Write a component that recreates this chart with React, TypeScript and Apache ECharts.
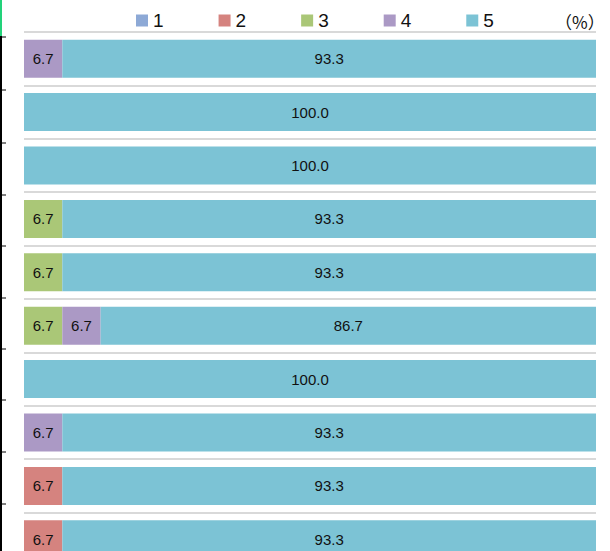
import React, { useEffect, useRef } from "react";
import * as echarts from "echarts";

const categories = ["1", "2", "3", "4", "5", "6", "7", "8", "9", "10"];
const seriesNames = ["1", "2", "3", "4", "5"];
const s1 = [0, 0, 0, 0, 0, 0, 0, 0, 0, 0];
const s2 = [0, 0, 0, 0, 0, 0, 0, 0, 6.7, 6.7];
const s3 = [0, 0, 0, 6.7, 6.7, 6.7, 0, 0, 0, 0];
const s4 = [6.7, 0, 0, 0, 0, 6.7, 0, 6.7, 0, 0];
const s5 = [93.3, 100, 100, 93.3, 93.3, 86.7, 100, 93.3, 93.3, 93.3];
const colors = ["#8DA9D6", "#D5837F", "#AAC777", "#AB99C5", "#7CC3D5"];
const leftTicks = [37, 90, 143, 195, 246, 298, 349, 400, 452, 504];

export default function App() {
  const ref = useRef<HTMLDivElement>(null);
  useEffect(() => {
    if (!ref.current) return;
    const chart = echarts.init(ref.current, null, { renderer: "svg" });
    const all = [s1, s2, s3, s4, s5];
    const series = all.map((d, i) => ({
      name: seriesNames[i],
      type: "bar",
      stack: "total",
      barWidth: 38,
      data: d.map((v) => (v === 0 ? null : v)),
      itemStyle: { color: colors[i] },
      label: {
        show: true,
        position: "inside",
        color: "#111",
        fontSize: 15,
        fontFamily: "Liberation Sans",
        formatter: (p: any) => (p.value == null ? "" : Number(p.value).toFixed(1)),
      },
    }));
    const graphics: any[] = [
      { type: "line", shape: { x1: 1, y1: 0, x2: 1, y2: 36 }, style: { stroke: "#22d27a", lineWidth: 2 } },
      { type: "line", shape: { x1: 1, y1: 36, x2: 1, y2: 580 }, style: { stroke: "#000", lineWidth: 2 } },
      ...leftTicks.map((y) => ({
        type: "line",
        shape: { x1: 0, y1: y, x2: 6, y2: y },
        style: { stroke: "#000", lineWidth: 1 },
      })),
      {
        type: "text",
        left: 555,
        top: 13,
        style: { text: "（%）", fontSize: 17, fontFamily: "Noto Sans CJK JP", fill: "#111" },
      },
    ];
    chart.setOption({
      animation: false,
      color: colors,
      legend: {
        data: seriesNames,
        left: 131,
        top: 6,
        itemWidth: 12,
        itemHeight: 12,
        itemGap: 55,
        icon: "rect",
        textStyle: { fontSize: 19, color: "#111", fontFamily: "Liberation Sans" },
      },
      grid: { left: 24, top: 32, right: 14, bottom: 14 },
      xAxis: { type: "value", min: 0, max: 100, show: false },
      yAxis: {
        type: "category",
        data: categories,
        inverse: true,
        axisLine: { show: false },
        axisTick: { show: false },
        axisLabel: { show: false },
        splitLine: { show: true, lineStyle: { color: "#d9d9d9", width: 2 } },
      },
      graphic: graphics,
      series,
    });
    return () => chart.dispose();
  }, []);
  return (
    <div style={{ position: "absolute", left: 0, top: 0, width: 610, height: 551, overflow: "hidden" }}>
      <div ref={ref} style={{ width: 610, height: 580 }} />
    </div>
  );
}
